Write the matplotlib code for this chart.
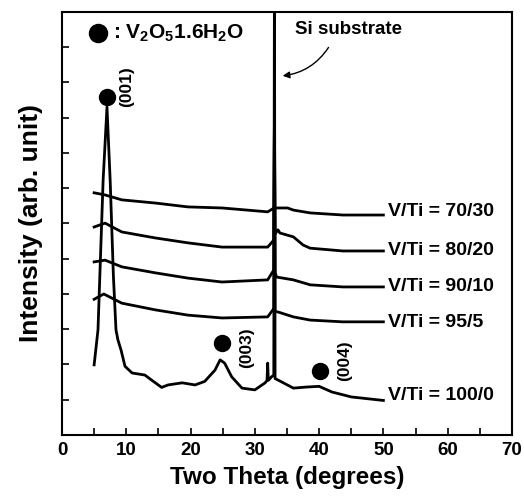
import matplotlib
matplotlib.use("Agg")
import matplotlib.pyplot as plt

plt.rcParams["font.family"] = ["Liberation Sans", "DejaVu Sans"]
plt.rcParams["font.weight"] = "bold"
plt.rcParams["mathtext.fontset"] = "custom"
plt.rcParams["mathtext.rm"] = "Liberation Sans:bold"
plt.rcParams["mathtext.default"] = "rm"

# estimated intensities (arb. units, already offset)
x_100 = [5.0, 5.6, 6.4, 7.0, 7.5, 8.0, 8.4, 8.7, 9.2, 9.8, 10.9, 12.9, 14.0, 15.5,
         16.5, 18.7, 20.7, 22.2, 23.8, 24.6, 25.3, 26.4, 28.0, 30.0, 31.6, 31.9,
         32.0, 32.1, 32.6, 32.95, 33.05, 33.15, 33.6, 36.0, 38.0, 40.0, 42.0, 45.0,
         49.5, 50.0]
y_100 = [1.99, 2.98, 7.23, 9.30, 7.20, 4.50, 2.98, 2.70, 2.40, 1.95, 1.76, 1.70, 1.55, 1.35,
         1.42, 1.48, 1.42, 1.52, 1.84, 2.13, 2.04, 1.65, 1.33, 1.28, 1.48, 1.55,
         2.04, 1.55, 1.65, 1.70, 13.0, 1.60, 1.56, 1.33, 1.36, 1.38, 1.22, 1.08,
         0.99, 0.98]

x_95 = [5.0, 6.5, 9.3, 14.5, 19.6, 24.9, 32.0, 32.8, 32.95, 33.05, 33.15, 33.6,
        36.0, 38.6, 43.7, 50.0]
y_95 = [3.85, 4.00, 3.74, 3.55, 3.40, 3.32, 3.35, 3.55, 3.55, 9.0, 3.50, 3.49,
        3.35, 3.26, 3.21, 3.21]

x_90 = [5.0, 6.7, 9.3, 14.5, 19.6, 24.9, 32.0, 32.95, 33.05, 33.15, 33.4,
        36.0, 38.6, 43.7, 50.0]
y_90 = [4.91, 4.96, 4.77, 4.60, 4.45, 4.34, 4.40, 4.68, 9.0, 4.60, 4.48,
        4.40, 4.26, 4.20, 4.20]

x_80 = [5.0, 6.7, 9.3, 14.5, 19.6, 24.9, 32.0, 32.95, 33.05, 33.15, 33.6, 33.9,
        36.0, 37.5, 38.6, 43.7, 50.0]
y_80 = [5.90, 6.01, 5.76, 5.59, 5.45, 5.33, 5.33, 5.53, 9.0, 5.70, 5.82, 5.73,
        5.62, 5.39, 5.30, 5.22, 5.22]

x_70 = [5.0, 6.7, 9.3, 14.5, 19.6, 24.9, 32.0, 33.0, 35.1, 36.0, 38.6, 43.7, 50.0]
y_70 = [6.87, 6.81, 6.67, 6.58, 6.47, 6.44, 6.33, 6.44, 6.44, 6.38, 6.30, 6.24, 6.24]

series_x = [x_100, x_95, x_90, x_80, x_70]
series_y = [y_100, y_95, y_90, y_80, y_70]
labels = ["V/Ti = 100/0", "V/Ti = 95/5", "V/Ti = 90/10", "V/Ti = 80/20", "V/Ti = 70/30"]
label_y = [1.11, 3.18, 4.20, 5.22, 6.33]

peak_x = [7.0, 24.9, 40.1]
peak_y = [9.6, 2.61, 1.82]
peak_names = ["(001)", "(003)", "(004)"]
peak_label_x = [10.1, 28.8, 44.0]
peak_label_y = [9.87, 2.47, 2.1]

fig = plt.figure(figsize=(5.24, 4.98), dpi=100)
ax = fig.add_axes([0.1183, 0.1265, 0.8587, 0.8495])

for xs, ys in zip(series_x, series_y):
    ax.plot(xs, ys, color="black", lw=2)

for lab, ly in zip(labels, label_y):
    ax.text(50.7, ly, lab, fontsize=14, fontweight="bold", va="center", ha="left")

ax.plot(peak_x, peak_y, "o", color="black", ms=11.5)
for name, px, py in zip(peak_names, peak_label_x, peak_label_y):
    ax.text(px, py, name, rotation=90, fontsize=12.5, fontweight="bold",
            ha="center", va="center")

ax.plot([5.6], [11.4], "o", color="black", ms=13)
ax.text(7.9, 11.4, ": V$_2$O$_5$1.6H$_2$O", fontsize=15, fontweight="bold",
        va="center", ha="left")

ax.text(36.2, 11.49, "Si substrate", fontsize=13.5, fontweight="bold",
        va="center", ha="left")
ax.annotate("", xy=(33.9, 10.18), xytext=(41.7, 11.06),
            arrowprops=dict(arrowstyle="-|>", color="black", lw=1,
                            connectionstyle="arc3,rad=-0.25"))

ax.set_xlim(0, 70)
ax.set_ylim(0, 12)
ax.set_xticks(range(0, 71, 10))
ax.set_xticks(range(5, 70, 10), minor=True)
ax.set_yticks(range(1, 12))
ax.set_yticklabels([])
ax.tick_params(axis="both", which="both", direction="in", length=5, width=1.2,
               top=False, right=False)
ax.tick_params(axis="x", labelsize=13.5, pad=5)
for lbl in ax.get_xticklabels():
    lbl.set_fontweight("bold")
for sp in ax.spines.values():
    sp.set_linewidth(1.5)

ax.set_xlabel("Two Theta (degrees)", fontsize=17.5, fontweight="bold", labelpad=5)
ax.set_ylabel("Intensity (arb. unit)", fontsize=19, fontweight="bold", labelpad=10)

fig.savefig("out.png", dpi=100)
